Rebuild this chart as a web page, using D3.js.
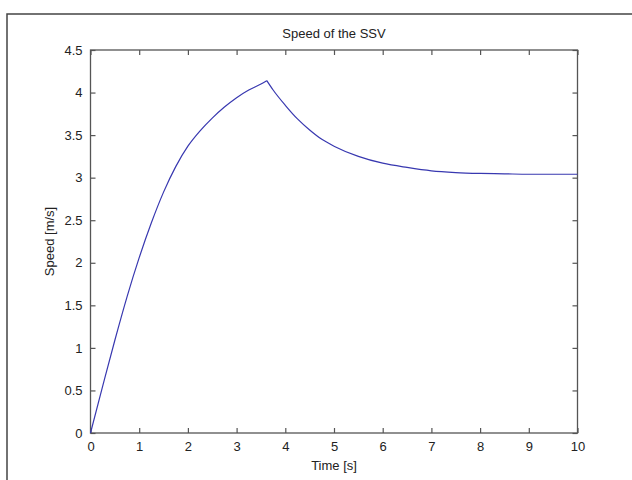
<!DOCTYPE html>
<html>
<head>
<meta charset="utf-8">
<script src="https://cdn.jsdelivr.net/npm/d3@7"></script>
<style>
  body { margin: 0; background: #fff; }
  text { font-family: "Liberation Sans", Arial, sans-serif; fill: #222; }
</style>
</head>
<body>
<div id="chart"></div>
<script>
// speed of the SSV
const time = [0, 0.25, 0.5, 0.75, 1.0, 1.25, 1.5, 1.75, 2.0, 2.25, 2.5, 2.75, 3.0, 3.25, 3.5, 3.62,
              3.75, 4.0, 4.25, 4.5, 4.75, 5.0, 5.5, 6.0, 6.5, 7.0, 7.5, 8.0, 8.5, 9.0, 10.0];
const speed = [0, 0.55, 1.09, 1.60, 2.06, 2.47, 2.83, 3.13, 3.37, 3.55, 3.70, 3.83, 3.94, 4.03, 4.10, 4.14,
               4.03, 3.85, 3.69, 3.56, 3.45, 3.37, 3.25, 3.17, 3.12, 3.08, 3.06, 3.05, 3.045, 3.04, 3.04];
const xTicks = [0, 1, 2, 3, 4, 5, 6, 7, 8, 9, 10];
const yTicks = [0, 0.5, 1, 1.5, 2, 2.5, 3, 3.5, 4, 4.5];

const width = 632, height = 480;
const margin = {left: 90.5, right: 54.5, top: 50, bottom: 47};

const svg = d3.select("#chart").append("svg")
  .attr("width", width)
  .attr("height", height);

// outer figure frame (only top and left edges visible)
svg.append("path")
  .attr("d", `M7,${height} L7,14 L${width},14`)
  .attr("fill", "none")
  .attr("stroke", "#444")
  .attr("stroke-width", 1.5);

const x = d3.scaleLinear().domain([0, 10]).range([margin.left, width - margin.right]);
const y = d3.scaleLinear().domain([0, 4.5]).range([height - margin.bottom, margin.top]);

const tickLen = 5;
const axisColor = "#555";

function styleAxis(g) {
  g.select(".domain").remove();
  g.selectAll(".tick line").attr("stroke", axisColor).attr("stroke-width", 1.2);
  g.selectAll(".tick text").style("font-size", "13px").attr("fill", "#222");
}

// bottom axis, ticks inward
svg.append("g")
  .attr("transform", `translate(0,${y(0)})`)
  .call(d3.axisBottom(x).tickValues(xTicks).tickSizeInner(-tickLen).tickSizeOuter(0).tickPadding(9).tickFormat(d3.format("d")))
  .call(styleAxis);

// top axis, ticks only
svg.append("g")
  .attr("transform", `translate(0,${y(4.5)})`)
  .call(d3.axisTop(x).tickValues(xTicks).tickSizeInner(-tickLen).tickSizeOuter(0).tickFormat(""))
  .call(styleAxis);

// left axis
svg.append("g")
  .attr("transform", `translate(${x(0)},0)`)
  .call(d3.axisLeft(y).tickValues(yTicks).tickSizeInner(-tickLen).tickSizeOuter(0).tickPadding(8).tickFormat(d3.format("")))
  .call(styleAxis);

// right axis, ticks only
svg.append("g")
  .attr("transform", `translate(${x(10)},0)`)
  .call(d3.axisRight(y).tickValues(yTicks).tickSizeInner(-tickLen).tickSizeOuter(0).tickFormat(""))
  .call(styleAxis);

// box
svg.append("rect")
  .attr("x", x(0))
  .attr("y", y(4.5))
  .attr("width", x(10) - x(0))
  .attr("height", y(0) - y(4.5))
  .attr("fill", "none")
  .attr("stroke", axisColor)
  .attr("stroke-width", 1.3);

// draw rise and decay separately so the peak stays a sharp corner
const pts = time.map((t, i) => [t, speed[i]]);
const peak = d3.maxIndex(speed);

const line = d3.line()
  .x(d => x(d[0]))
  .y(d => y(d[1]))
  .curve(d3.curveMonotoneX);

svg.selectAll("path.speed")
  .data([pts.slice(0, peak + 1), pts.slice(peak)])
  .join("path")
  .attr("class", "speed")
  .attr("d", line)
  .attr("fill", "none")
  .attr("stroke", "#3838b0")
  .attr("stroke-width", 1.2)
  .attr("stroke-linejoin", "miter");

svg.append("text")
  .attr("x", (x(0) + x(10)) / 2)
  .attr("y", 38)
  .attr("text-anchor", "middle")
  .style("font-size", "13px")
  .text("Speed of the SSV");

svg.append("text")
  .attr("x", (x(0) + x(10)) / 2)
  .attr("y", 470)
  .attr("text-anchor", "middle")
  .style("font-size", "13px")
  .text("Time [s]");

svg.append("text")
  .attr("transform", `translate(54,${(y(0) + y(4.5)) / 2}) rotate(-90)`)
  .attr("text-anchor", "middle")
  .style("font-size", "13px")
  .text("Speed [m/s]");
</script>
</body>
</html>
